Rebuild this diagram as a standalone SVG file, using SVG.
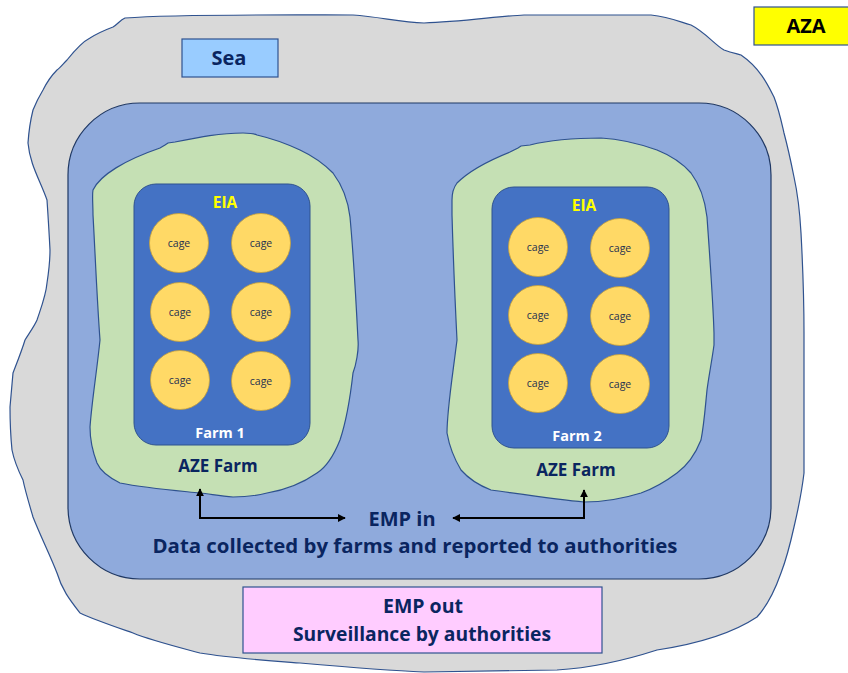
<svg xmlns="http://www.w3.org/2000/svg" width="848" height="673" viewBox="0 0 848 673">
<defs>
<style>
.t{font-family:"Open Sans","Liberation Sans",sans-serif;font-weight:bold;text-anchor:middle;}
.navy{fill:#0A2560;}
.cage{fill:#FFD966;stroke:#C9A23A;stroke-width:0.8;}
.ct{font-family:"Open Sans","Liberation Sans",sans-serif;font-size:10.5px;fill:#1F3050;text-anchor:middle;}
.farm{fill:#4472C4;stroke:#2F528F;stroke-width:1;}
.blob{stroke:#2F528F;stroke-width:1.2;}
.conn{fill:none;stroke:#000;stroke-width:2;}
</style>
<marker id="ah" viewBox="0 0 10 10" refX="9" refY="5" markerWidth="4" markerHeight="4" orient="auto-start-reverse">
<path d="M0,0 L10,5 L0,10 z" fill="#000"/>
</marker>
</defs>
<rect width="848" height="673" fill="#fff"/>
<g id="aza-region">
<path class="blob" fill="#D9D9D9" d="M125,18 C180,14 300,15 353,15 C380,17 400,22 424,23 C460,22 500,16 524,15 L651,15 C670,17 680,22 691,25 C705,32 715,45 724,50 C732,53 738,54 741,55 C760,68 768,85 774,97 C779,110 781,120 784,133 C788,148 791,162 794,177 C798,195 800,215 801,233 C803,270 804,300 804,333 L804,473 C802,490 798,510 794,527 C790,545 786,560 781,573 C775,590 768,605 757,617 C730,635 690,645 657,650 C620,662 590,668 557,670 L424,672 C400,671 380,670 300,663 C260,660 230,658 200,653 C170,645 150,640 133,633 C110,625 95,620 80,613 C70,600 62,590 57,573 C50,555 40,535 33,517 C28,500 25,490 23,480 C18,470 14,460 12,450 C10,430 10,420 10,407 C11,395 12,385 13,373 C18,360 22,350 25,340 C30,332 35,325 37,320 C42,305 46,295 47,283 C49,270 50,260 50,250 C49,230 48,215 47,200 C40,180 30,165 28,143 C29,128 31,118 33,110 C37,100 40,95 43,90 C48,80 52,75 57,70 C60,68 63,64 67,60 C75,50 82,42 90,38 C98,33 105,30 113,27 C118,24 120,20 125,18 Z"/>
</g>
<g id="sea-zone">
<rect x="68" y="103" width="703" height="476" rx="72" ry="72" fill="#8FAADC" stroke="#1F3864" stroke-width="1.2"/>
</g>
<g id="sea-label">
<rect x="182" y="39" width="96" height="38" fill="#99CCFF" stroke="#2F528F" stroke-width="1.2"/>
<text class="t navy" x="229" y="65" font-size="20">Sea</text>
</g>
<g id="aza-label">
<rect x="754" y="7" width="100" height="38" fill="#FFFF00" stroke="#2F528F" stroke-width="1.2"/>
<text class="t" x="806" y="33" font-size="20" fill="#000">AZA</text>
</g>
<g id="aze-farm-1">
<path class="blob" fill="#C5E0B4" d="M93,190 C100,175 125,160 160,148 L165,145 L168,143 L175,142 C200,137 220,133 243,133 C250,133 255,134 257,135 C270,138 285,143 300,150 C315,157 325,165 333,173 C342,185 348,200 350,217 C353,250 356,300 358,340 C359,350 356,365 353,373 C350,400 345,425 340,440 C332,460 325,468 317,473 C300,485 285,490 267,493 C255,496 245,497 233,497 C220,496 210,494 200,493 C170,490 145,488 120,483 C108,477 100,470 97,463 C92,450 90,440 90,427 C92,400 97,370 100,340 C97,300 95,250 93,215 C93,205 92,195 93,190 Z"/>
<text class="t navy" x="218" y="472" font-size="17">AZE Farm</text>
</g>
<g id="farm-1">
<rect class="farm" x="134" y="184" width="176" height="261" rx="22" ry="22"/>
<text class="t" x="225" y="208" font-size="15.5" fill="#FFFF00">EIA</text>
<text class="t" x="220" y="438" font-size="14.5" fill="#fff">Farm 1</text>
</g>
<g id="farm1-cages">
<circle class="cage" cx="179" cy="243" r="29.5"/><text class="ct" x="179" y="247">cage</text>
<circle class="cage" cx="261" cy="243" r="29.5"/><text class="ct" x="261" y="247">cage</text>
<circle class="cage" cx="180" cy="312" r="29.5"/><text class="ct" x="180" y="316">cage</text>
<circle class="cage" cx="261" cy="312" r="29.5"/><text class="ct" x="261" y="316">cage</text>
<circle class="cage" cx="180" cy="380" r="29.5"/><text class="ct" x="180" y="384">cage</text>
<circle class="cage" cx="261" cy="381" r="29.5"/><text class="ct" x="261" y="385">cage</text>
</g>
<g id="aze-farm-2">
<path class="blob" fill="#C5E0B4" d="M452,200 C452,192 454,187 457,183 C470,170 490,160 510,152 L518,148 L521,146 L530,145 C550,140 575,138 601,138 C620,139 640,144 657,150 C672,156 684,165 691,173 C700,185 705,200 707,217 C710,260 713,300 714,333 L714,345 C712,360 709,375 707,390 C705,410 704,425 701,440 C695,455 688,465 677,473 C665,482 655,488 641,493 C625,498 605,502 584,502 C560,500 520,494 491,490 C478,485 468,478 461,470 C455,460 450,450 447,433 C447,410 452,380 457,340 C455,300 453,250 452,215 Z"/>
<text class="t navy" x="576" y="476" font-size="17">AZE Farm</text>
</g>
<g id="farm-2">
<rect class="farm" x="492" y="187" width="177" height="261" rx="22" ry="22"/>
<text class="t" x="584" y="211" font-size="15.5" fill="#FFFF00">EIA</text>
<text class="t" x="577" y="441" font-size="14.5" fill="#fff">Farm 2</text>
</g>
<g id="farm2-cages">
<circle class="cage" cx="538" cy="247" r="29.5"/><text class="ct" x="538" y="251">cage</text>
<circle class="cage" cx="620" cy="248" r="29.5"/><text class="ct" x="620" y="252">cage</text>
<circle class="cage" cx="538" cy="315" r="29.5"/><text class="ct" x="538" y="319">cage</text>
<circle class="cage" cx="620" cy="316" r="29.5"/><text class="ct" x="620" y="320">cage</text>
<circle class="cage" cx="538" cy="383" r="29.5"/><text class="ct" x="538" y="387">cage</text>
<circle class="cage" cx="620" cy="384" r="29.5"/><text class="ct" x="620" y="388">cage</text>
</g>
<g id="connectors">
<path class="conn" d="M200,489 L200,518 L345,518" marker-start="url(#ah)" marker-end="url(#ah)"/>
<path class="conn" d="M584,490 L584,518 L453,518" marker-start="url(#ah)" marker-end="url(#ah)"/>
</g>
<g id="emp-in">
<text class="t navy" x="402" y="526" font-size="20">EMP in</text>
<text class="t navy" x="415" y="553" font-size="20" textLength="525" lengthAdjust="spacingAndGlyphs">Data collected by farms and reported to authorities</text>
</g>
<g id="emp-out">
<rect x="243" y="587" width="359" height="66" fill="#FFCCFF" stroke="#2F528F" stroke-width="1.2"/>
<text class="t navy" x="423" y="613" font-size="19.5">EMP out</text>
<text class="t navy" x="422" y="641" font-size="19.5" textLength="258" lengthAdjust="spacingAndGlyphs">Surveillance by authorities</text>
</g>
</svg>
